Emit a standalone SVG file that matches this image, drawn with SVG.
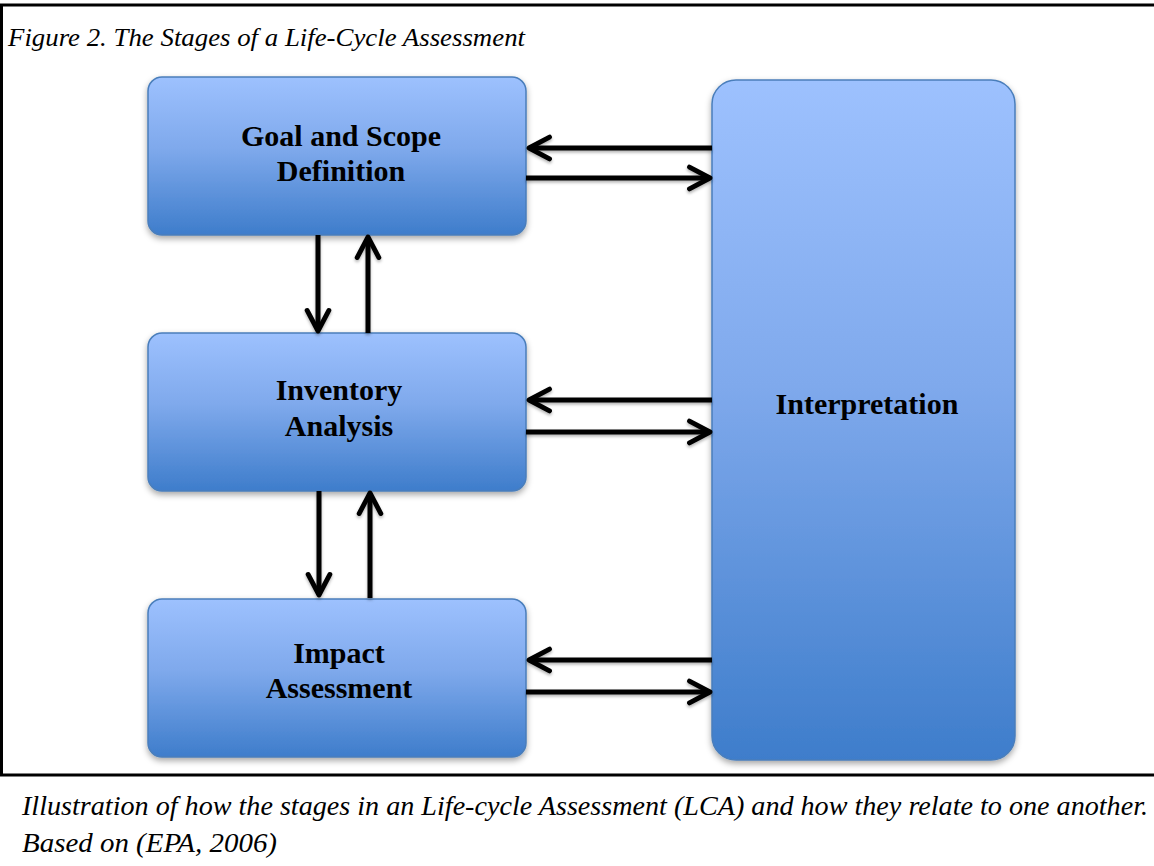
<svg xmlns="http://www.w3.org/2000/svg" width="1154" height="866" viewBox="0 0 1154 866">
<defs>
<linearGradient id="g" x1="0" y1="0" x2="0" y2="1">
<stop offset="0" stop-color="#9DC1FE"/>
<stop offset="0.45" stop-color="#7FA9EC"/>
<stop offset="1" stop-color="#3E7DCB"/>
</linearGradient>
<filter id="sh" x="-10%" y="-10%" width="120%" height="130%">
<feDropShadow dx="0" dy="3" stdDeviation="3" flood-color="#000" flood-opacity="0.35"/>
</filter>
<filter id="ash" filterUnits="userSpaceOnUse" x="0" y="0" width="1154" height="866">
<feDropShadow dx="0" dy="2" stdDeviation="1.5" flood-color="#000" flood-opacity="0.3"/>
</filter>
<marker id="ah" viewBox="0 0 12 12" refX="10.5" refY="6" markerWidth="5.8" markerHeight="5.8" markerUnits="strokeWidth" orient="auto">
<path d="M2,1.5 L10.5,6 L2,10.5" fill="none" stroke="#000" stroke-width="2" stroke-linecap="round" stroke-linejoin="round"/>
</marker>
<style>
.box{fill:url(#g);stroke:#4A7EBB;stroke-width:1.5;filter:url(#sh)}
.lbl{font-family:"Liberation Serif",serif;font-weight:bold;font-size:30px;fill:#000;text-anchor:middle}
.it{font-family:"Liberation Serif",serif;font-style:italic;fill:#000}
.arr{stroke:#000;stroke-width:5;fill:none;marker-end:url(#ah)}
.frame{stroke:#000;stroke-width:3;fill:none}
</style>
</defs>
<rect width="1154" height="866" fill="#fff"/>
<g id="frame">
<line class="frame" x1="0" y1="5" x2="1154" y2="5"/>
<line class="frame" x1="1.5" y1="5" x2="1.5" y2="775"/>
<line class="frame" x1="0" y1="775" x2="1154" y2="775"/>
</g>
<text id="title" class="it" x="8" y="46" font-size="26" textLength="517" lengthAdjust="spacingAndGlyphs">Figure 2. The Stages of a Life-Cycle Assessment</text>
<g id="goal">
<rect class="box" x="148" y="77" width="378" height="158" rx="14"/>
<text class="lbl" x="341" y="146">Goal and Scope</text>
<text class="lbl" x="341" y="181">Definition</text>
</g>
<g id="inventory">
<rect class="box" x="148" y="333" width="378" height="158" rx="14"/>
<text class="lbl" x="339" y="400">Inventory</text>
<text class="lbl" x="339" y="436">Analysis</text>
</g>
<g id="impact">
<rect class="box" x="148" y="599" width="378" height="158" rx="14"/>
<text class="lbl" x="339" y="663">Impact</text>
<text class="lbl" x="339" y="698">Assessment</text>
</g>
<g id="interpretation">
<rect class="box" x="712" y="80" width="303" height="680" rx="24"/>
<text class="lbl" x="867" y="414">Interpretation</text>
</g>
<g id="connectors" filter="url(#ash)">
<line class="arr" x1="712" y1="148" x2="529" y2="148"/>
<line class="arr" x1="526" y1="178" x2="710" y2="178"/>
<line class="arr" x1="712" y1="400" x2="529" y2="400"/>
<line class="arr" x1="526" y1="432" x2="710" y2="432"/>
<line class="arr" x1="712" y1="660" x2="529" y2="660"/>
<line class="arr" x1="526" y1="692" x2="710" y2="692"/>
<line class="arr" x1="318" y1="235" x2="318" y2="331"/>
<line class="arr" x1="368" y1="333" x2="368" y2="237"/>
<line class="arr" x1="319" y1="491" x2="319" y2="595"/>
<line class="arr" x1="370" y1="598" x2="370" y2="493"/>
</g>
<g id="caption">
<text class="it" x="22" y="815" font-size="27" textLength="1126" lengthAdjust="spacingAndGlyphs">Illustration of how the stages in an Life-cycle Assessment (LCA) and how they relate to one another.</text>
<text class="it" x="22" y="852" font-size="27" textLength="255" lengthAdjust="spacingAndGlyphs">Based on (EPA, 2006)</text>
</g>
</svg>
